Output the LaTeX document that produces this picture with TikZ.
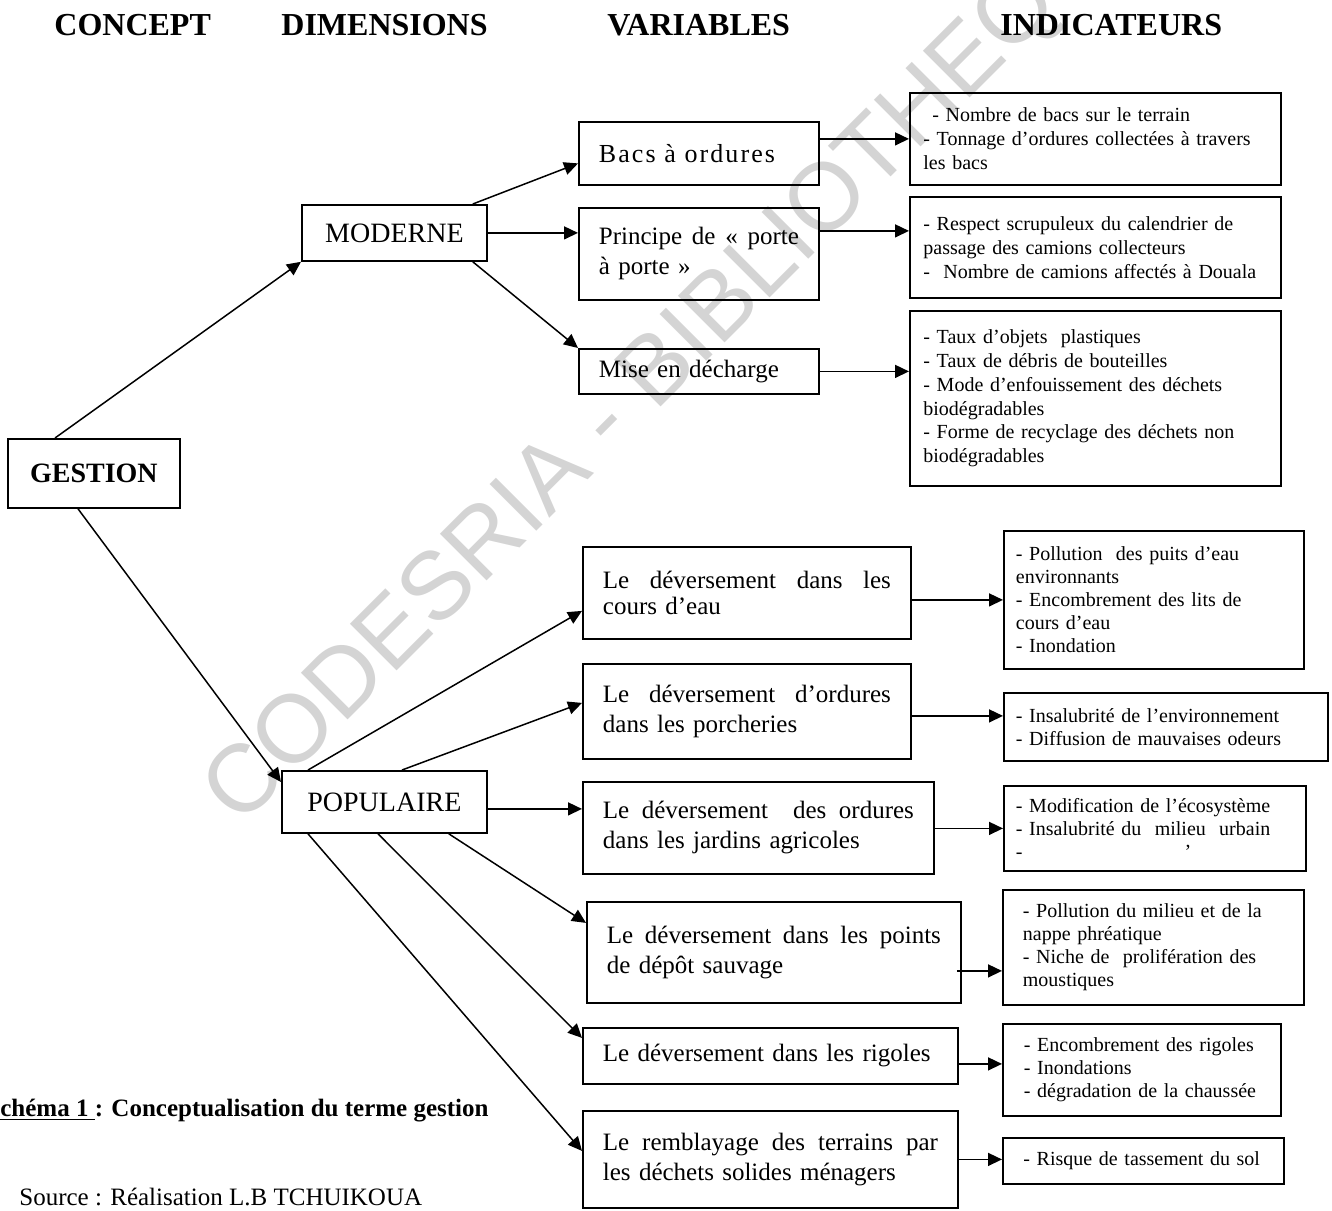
\documentclass[tikz,border=0pt]{standalone}
\usepackage{fontspec}
\setmainfont{Liberation Serif}
\newfontfamily\filigrana{Liberation Sans}
\usetikzlibrary{arrows.meta}
\newcommand{\rigapiena}[1]{{\spaceskip=\fontdimen2\font plus 1fil\relax\makebox[\linewidth][s]{#1}}}

\begin{document}
\begin{tikzpicture}[x=0.5pt, y=-0.5pt,
    casella/.style={draw, line width=0.9pt, anchor=north west, inner sep=2pt},
    misure/.style n args={3}{minimum width=#1pt, minimum height=#2pt, text width=#3pt},
    dimensione/.style={casella, font=\fontsize{14}{16}\selectfont, align=center},
    variabile/.style={casella, font=\fontsize{12.5}{15}\selectfont, align=left},
    indmoderno/.style={casella, font=\fontsize{10}{11.9}\selectfont, align=left},
    indpopolare/.style={casella, font=\fontsize{10}{11.5}\selectfont, align=left},
    titolo/.style={anchor=base west, inner sep=0pt, font=\fontsize{16}{19}\selectfont\bfseries},
    freccia/.style={line width=0.75pt, -{Triangle[length=7pt, width=6.5pt]}}]
    \useasboundingbox (0,0) rectangle (1332,1210);
    % Filigrana
    \node[rotate=45, anchor=base west, inner sep=0pt, text=black!17,
        font=\filigrana\fontsize{48}{48}\selectfont] (filigrana) at (240,828) {CODESRIA - BIBLIOTHEQUE};
    % Intestazioni
    \node[titolo] (tconcetto) at (54,35) {CONCEPT};
    \node[titolo] (tdimensioni) at (281,35) {DIMENSIONS};
    \node[titolo] (tvariabili) at (607,35) {VARIABLES};
    \node[titolo] (tindicatori) at (1000,35) {INDICATEURS};
    % Concetto e dimensioni
    \node[dimensione, minimum width=86pt, minimum height=34.5pt, font=\fontsize{14}{16}\selectfont\bfseries] (gestione) at (7,438) {GESTION};
    \node[dimensione, minimum width=92.5pt, minimum height=28pt] (moderne) at (301,204) {MODERNE};
    \node[dimensione, minimum width=102.5pt, minimum height=31pt] (popolare) at (281,770) {POPULAIRE};
    % Variabili moderne
    \node[variabile, misure={120}{31.5}{100}, font=\fontsize{13}{15}\selectfont] (bacs) at (578,121) {\addfontfeatures{LetterSpace=8}Bacs à ordures};
    \node[variabile, misure={120}{46}{100}] (principe) at (578,207) {\rigapiena{Principe de « porte}\\à porte »};
    \node[variabile, misure={120}{22.5}{100}] (mise) at (578,348) {Mise en décharge};
    % Variabili popolari
    \node[variabile, misure={164}{46}{144}, font=\fontsize{12.5}{13}\selectfont] (cours) at (582,546) {\rigapiena{Le déversement dans les}\\cours d’eau};
    \node[variabile, misure={164}{47.5}{144}] (porch) at (582,663) {\rigapiena{Le déversement d’ordures}\\dans les porcheries};
    \node[variabile, misure={175.5}{46}{155.5}] (jardins) at (582,781) {\rigapiena{Le déversement\ \ des ordures}\\dans les jardins agricoles};
    \node[variabile, misure={187}{50.5}{167}] (depot) at (586,901) {\rigapiena{Le déversement dans les points}\\de dépôt sauvage};
    \node[variabile, misure={187.5}{28}{167.5}] (rigoles) at (582,1027) {Le déversement dans les rigoles};
    \node[variabile, misure={187.5}{48.5}{167.5}] (rembl) at (582,1110) {\rigapiena{Le remblayage des terrains par}\\les déchets solides ménagers};
    % Indicatori
    \node[indmoderno, misure={185.5}{46}{172}] (ind1) at (909,92) {\hspace*{4.5pt}- Nombre de bacs sur le terrain\\- Tonnage d’ordures collectées à travers\\les bacs};
    \node[indmoderno, misure={185.5}{50.5}{172}] (ind2) at (909,196) {- Respect scrupuleux du calendrier de\\passage des camions collecteurs\\-\ \ Nombre de camions affectés à Douala};
    \node[indmoderno, misure={185.5}{87.5}{172}] (ind3) at (909,310) {- Taux d’objets\ \ plastiques\\- Taux de débris de bouteilles\\- Mode d’enfouissement des déchets\\biodégradables\\- Forme de recyclage des déchets non\\biodégradables};
    \node[indpopolare, misure={150}{69}{138}] (indA) at (1003,530) {- Pollution\ \ des puits d’eau\\environnants\\- Encombrement des lits de\\cours d’eau\\- Inondation};
    \node[indpopolare, misure={162}{34}{150}] (indB) at (1003,692) {- Insalubrité de l’environnement\\- Diffusion de mauvaises odeurs};
    \node[indpopolare, misure={151}{42.5}{139}] (indC) at (1003,785) {- Modification de l’écosystème\\- Insalubrité du\ \ milieu\ \ urbain\\-\hspace{81pt}’};
    \node[indpopolare, misure={150.5}{57.5}{130.5}] (indD) at (1002,889) {- Pollution du milieu et de la\\nappe phréatique\\- Niche de\ \ prolifération des\\moustiques};
    \node[indpopolare, misure={139}{46}{118}] (indE) at (1002,1023) {- Encombrement des rigoles\\- Inondations\\- dégradation de la chaussée};
    \node[indpopolare, misure={140.5}{23}{120}] (indF) at (1002,1137) {- Risque de tassement du sol};
    % Didascalia e fonte
    \node[anchor=base west, inner sep=0pt, font=\fontsize{12.5}{15}\selectfont\bfseries] (didascalia) at (0,1116) {\underline{chéma 1 }: Conceptualisation du terme gestion};
    \node[anchor=base west, inner sep=0pt, font=\fontsize{12.5}{15}\selectfont] (fonte) at (19,1205) {Source : Réalisation L.B TCHUIKOUA};
    % Collegamenti concetto - dimensioni
    \draw[freccia] ([xshift=24pt]gestione.north west) -- (moderne.south west);
    \draw[freccia] ([xshift=35.5pt]gestione.south west) -- ([yshift=-6pt]popolare.north west);
    % Dimensione moderna - variabili
    \draw[freccia] ([xshift=-7.5pt]moderne.north east) -- ([yshift=-5pt]bacs.west);
    \draw[freccia] (moderne.east) -- (moderne.east -| principe.west);
    \draw[freccia] ([xshift=-7.5pt]moderne.south east) -- (mise.north west);
    % Dimensione popolare - variabili
    \draw[freccia] ([xshift=13.5pt]popolare.north west) -- ([yshift=-9pt]cours.west);
    \draw[freccia] ([xshift=60.5pt]popolare.north west) -- ([yshift=4.25pt]porch.west);
    \draw[freccia] ([yshift=-3.5pt]popolare.east) -- ([yshift=9.5pt]jardins.west);
    \draw[freccia] ([xshift=-19.5pt]popolare.south east) -- ([yshift=14.75pt]depot.west);
    \draw[freccia] ([xshift=48.5pt]popolare.south west) -- ([yshift=9pt]rigoles.west);
    \draw[freccia] ([xshift=13.5pt]popolare.south west) -- ([yshift=4.25pt]rembl.west);
    % Variabili - indicatori
    \draw[freccia] (ind1.west -| bacs.east) -- (ind1.west);
    \draw[freccia] ([yshift=11.5pt]principe.east) -- ([yshift=8.25pt]ind2.west);
    \draw[freccia] (mise.east) -- (mise.east -| ind3.west);
    \draw[freccia] (indA.west -| cours.east) -- (indA.west);
    \draw[freccia] ([yshift=-2.25pt]porch.east) -- ([yshift=5.5pt]indB.west);
    \draw[freccia] (indC.west -| jardins.east) -- (indC.west);
    \draw[freccia] ([xshift=-2.5pt,yshift=-9.25pt]depot.east) -- ([yshift=-11.75pt]indD.west);
    \draw[freccia] ([yshift=-4pt]rigoles.east) -- ([yshift=3pt]indE.west);
    \draw[freccia] (rembl.east) -- (rembl.east -| indF.west);
\end{tikzpicture}
\end{document}
